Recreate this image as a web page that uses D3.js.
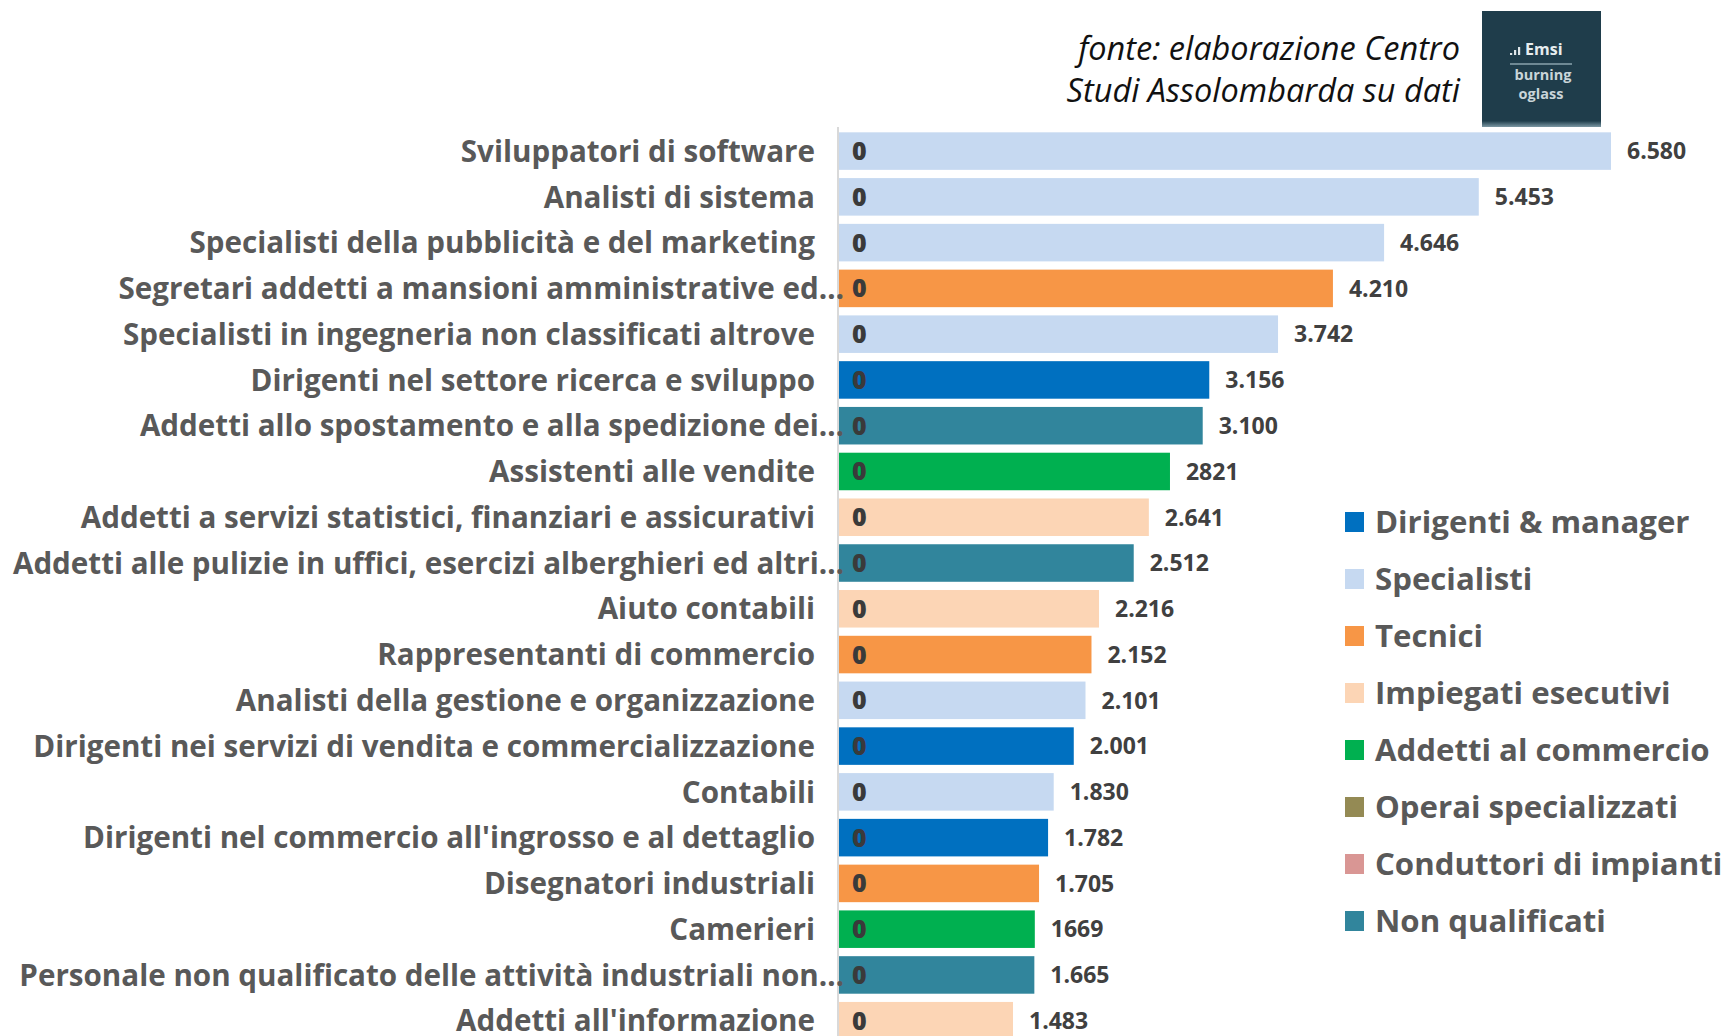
<!DOCTYPE html>
<html><head><meta charset="utf-8">
<script src="https://cdn.jsdelivr.net/npm/d3@7"></script>
<style>html,body{margin:0;padding:0;background:#fff;overflow:hidden}</style>
</head><body>
<svg id="chart" width="1729" height="1036"></svg>
<script>
const categories = [
  "Sviluppatori di software",
  "Analisti di sistema",
  "Specialisti della pubblicità e del marketing",
  "Segretari addetti a mansioni amministrative ed…",
  "Specialisti in ingegneria non classificati altrove",
  "Dirigenti nel settore ricerca e sviluppo",
  "Addetti allo spostamento e alla spedizione dei…",
  "Assistenti alle vendite",
  "Addetti a servizi statistici, finanziari e assicurativi",
  "Addetti alle pulizie in uffici, esercizi alberghieri ed altri…",
  "Aiuto contabili",
  "Rappresentanti di commercio",
  "Analisti della gestione e organizzazione",
  "Dirigenti nei servizi di vendita e commercializzazione",
  "Contabili",
  "Dirigenti nel commercio all'ingrosso e al dettaglio",
  "Disegnatori industriali",
  "Camerieri",
  "Personale non qualificato delle attività industriali non…",
  "Addetti all'informazione"
];
const values = [6580, 5453, 4646, 4210, 3742, 3156, 3100, 2821, 2641, 2512, 2216, 2152, 2101, 2001, 1830, 1782, 1705, 1669, 1665, 1483];
const valueLabels = ["6.580","5.453","4.646","4.210","3.742","3.156","3.100","2821","2.641","2.512","2.216","2.152","2.101","2.001","1.830","1.782","1.705","1669","1.665","1.483"];
const innerLabels = ["0","0","0","0","0","0","0","0","0","0","0","0","0","0","0","0","0","0","0","0"];
const groups = ["Specialisti","Specialisti","Specialisti","Tecnici","Specialisti","Dirigenti & manager","Non qualificati","Addetti al commercio","Impiegati esecutivi","Non qualificati","Impiegati esecutivi","Tecnici","Specialisti","Dirigenti & manager","Specialisti","Dirigenti & manager","Tecnici","Addetti al commercio","Non qualificati","Impiegati esecutivi"];
const legendNames = ["Dirigenti & manager","Specialisti","Tecnici","Impiegati esecutivi","Addetti al commercio","Operai specializzati","Conduttori di impianti","Non qualificati"];
const legendColors = ["#0070C0","#C6D9F1","#F79646","#FCD5B5","#00B050","#948A54","#D99694","#31859C"];
const sourceLines = ["fonte: elaborazione Centro","Studi Assolombarda su dati"];

const svg = d3.select("#chart");
const color = d3.scaleOrdinal().domain(legendNames).range(legendColors);

const x = d3.scaleLinear().domain([0, 6580]).range([839, 1611]);
const step = 45.77;
const y = d3.scaleBand().domain(categories)
  .range([128.2, 128.2 + categories.length * step])
  .paddingInner(0.18).paddingOuter(0.09);

const data = categories.map((c, i) => ({c, v: values[i], lab: valueLabels[i], z: innerLabels[i], g: groups[i]}));

// bars
svg.append("g").selectAll("rect").data(data).join("rect")
  .attr("x", x(0))
  .attr("y", d => y(d.c))
  .attr("width", d => x(d.v) - x(0))
  .attr("height", y.bandwidth())
  .attr("fill", d => color(d.g));

// axis line
svg.append("line").attr("x1", 838).attr("x2", 838).attr("y1", 127).attr("y2", 1036)
  .attr("stroke", "#d9d9d9").attr("stroke-width", 2);

// category labels
svg.append("g").selectAll("text").data(data).join("text")
  .attr("x", d => d.c.endsWith("…") ? 844 : 815)
  .attr("y", d => y(d.c) + y.bandwidth() / 2)
  .attr("dy", "0.36em")
  .attr("text-anchor", "end")
  .attr("font-family", "'Open Sans', sans-serif")
  .attr("font-weight", 700)
  .attr("font-size", 29.6)
  .attr("fill", "#595959")
  .text(d => d.c);

// inner zero labels
svg.append("g").selectAll("text").data(data).join("text")
  .attr("x", x(0) + 13)
  .attr("y", d => y(d.c) + y.bandwidth() / 2)
  .attr("dy", "0.36em")
  .attr("font-family", "'Open Sans', sans-serif")
  .attr("font-weight", 800)
  .attr("font-size", 25)
  .attr("fill", "#3a3a3a")
  .text(d => d.z);

// value labels
svg.append("g").selectAll("text").data(data).join("text")
  .attr("x", d => x(d.v) + 16)
  .attr("y", d => y(d.c) + y.bandwidth() / 2)
  .attr("dy", "0.36em")
  .attr("font-family", "'Open Sans', sans-serif")
  .attr("font-weight", 700)
  .attr("font-size", 23)
  .attr("fill", "#404040")
  .text(d => d.lab);

// legend
const lg = svg.append("g").selectAll("g").data(legendNames).join("g")
  .attr("transform", (d, i) => `translate(1345, ${522 + i * 57})`);
lg.append("rect").attr("x", 0).attr("y", -10).attr("width", 19).attr("height", 20)
  .attr("fill", d => color(d));
lg.append("text").attr("x", 30).attr("y", 0).attr("dy", "0.36em")
  .attr("font-family", "'Open Sans', sans-serif")
  .attr("font-weight", 700)
  .attr("font-size", 31.2)
  .attr("fill", "#595959")
  .text(d => d);

// source text
svg.append("g").selectAll("text").data(sourceLines).join("text")
  .attr("x", 1460)
  .attr("y", (d, i) => 60 + i * 42)
  .attr("text-anchor", "end")
  .attr("font-family", "'Open Sans', sans-serif")
  .attr("font-style", "italic")
  .attr("font-size", 32.5)
  .attr("fill", "#111")
  .text(d => d);

// logo
const logo = svg.append("g");
const defs = svg.append("defs");
const grad = defs.append("linearGradient").attr("id", "lgrad").attr("x1", 0).attr("x2", 0).attr("y1", 0).attr("y2", 1);
grad.append("stop").attr("offset", "0%").attr("stop-color", "#203f4d");
grad.append("stop").attr("offset", "100%").attr("stop-color", "#7c98a4");
logo.append("rect").attr("x", 1482).attr("y", 11).attr("width", 119).attr("height", 116).attr("fill", "#1f3d4b");
logo.append("rect").attr("x", 1482).attr("y", 121).attr("width", 119).attr("height", 6).attr("fill", "url(#lgrad)");
[[1510, 2], [1514, 5], [1518, 8]].forEach(([bx, h]) => {
  logo.append("rect").attr("x", bx).attr("y", 55 - h).attr("width", 2.2).attr("height", h).attr("fill", "#dfe7ea");
});
logo.append("text").attr("x", 1525).attr("y", 55).attr("font-family", "'Open Sans', sans-serif")
  .attr("font-weight", 700).attr("font-size", 16).attr("fill", "#e6edef").text("Emsi");
logo.append("line").attr("x1", 1510).attr("x2", 1572).attr("y1", 64).attr("y2", 64)
  .attr("stroke", "#8aa3ad").attr("stroke-width", 1.5);
logo.append("text").attr("x", 1543).attr("y", 80).attr("text-anchor", "middle").attr("font-family", "'Open Sans', sans-serif")
  .attr("font-weight", 700).attr("font-size", 14.5).attr("fill", "#c9d5d9").text("burning");
logo.append("text").attr("x", 1541).attr("y", 99).attr("text-anchor", "middle").attr("font-family", "'Open Sans', sans-serif")
  .attr("font-weight", 700).attr("font-size", 14.5).attr("fill", "#c9d5d9").text("oglass");
</script>
</body></html>
